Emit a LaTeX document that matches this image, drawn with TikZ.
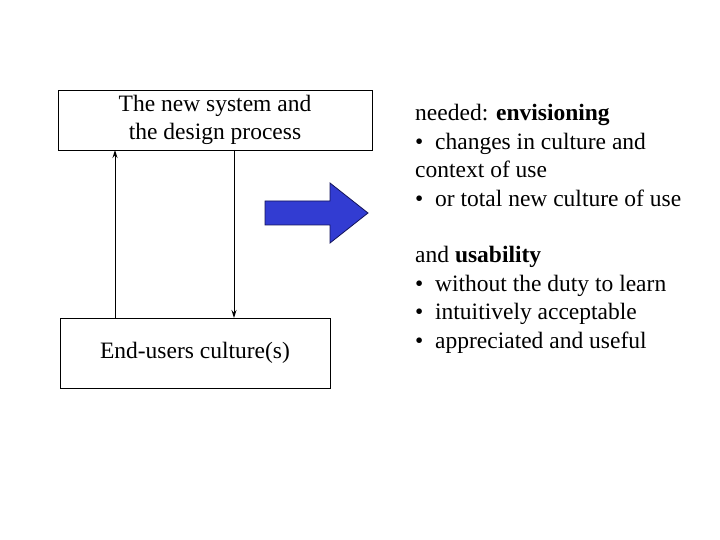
\documentclass[tikz,border=0pt]{standalone}
\usepackage{fontspec}
\setmainfont{Liberation Serif}
\usetikzlibrary{arrows.meta}
\begin{document}
\begin{tikzpicture}[x=1pt,y=-1pt,
  box/.style={draw,line width=0.8pt,inner sep=0pt},
  txt/.style={font=\fontsize{23.5}{28.5}\selectfont,align=left,anchor=north west,inner sep=0pt},
  arr/.style={-{Stealth[length=8pt,width=5pt]},line width=1pt}]
\useasboundingbox (0,0) rectangle (720,540);
\node[box,minimum width=314pt,minimum height=60pt,align=center,font=\fontsize{23.5}{28.5}\selectfont] (top) at (215,120) {The new system and\\the design process};
\node[box,minimum width=270pt,minimum height=70pt,font=\fontsize{23.5}{28.5}\selectfont] (bot) at (195,353) {End-users culture(s)};
\coordinate (u1) at (115,318); \coordinate (u2) at (115,150);
\coordinate (d1) at (234,150); \coordinate (d2) at (234,318);
\draw[arr] (u1) -- (u2);
\draw[arr] (d1) -- (d2);
\draw[fill={rgb,255:red,50;green,60;blue,210},draw={rgb,255:red,20;green,20;blue,90},line width=0.8pt]
 (265,201) -- (330,201) -- (330,183) -- (368,213) -- (330,243) -- (330,225) -- (265,225) -- cycle;
\node[txt] (t1) at (415,104) {needed: \textbf{envisioning}\\• \ changes in culture and\\context of use\\• \ or total new culture of use};
\node[txt] (t2) at (415,246) {and \textbf{usability}\\• \ without the duty to learn\\• \ intuitively acceptable\\• \ appreciated and useful};
\end{tikzpicture}
\end{document}
